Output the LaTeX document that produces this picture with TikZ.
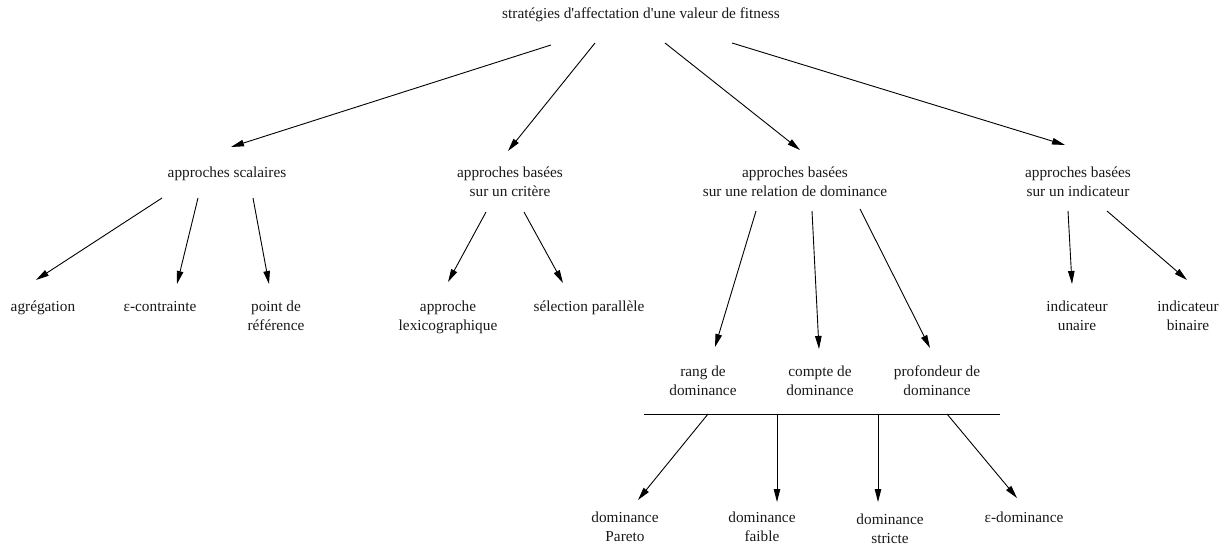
\documentclass[tikz,border=0pt]{standalone}
\usepackage{fontspec}
\setmainfont{Liberation Serif}
\usetikzlibrary{arrows.meta}
\tikzset{
  lbl/.style={anchor=north, inner sep=0pt, align=center, font=\fontsize{15.3}{18.5}\selectfont, text=black!90},
  arr/.style={draw=black, line width=0.9pt, -{Triangle[length=13pt,width=6.5pt]}},
  bar/.style={draw=black, line width=0.9pt}
}
\begin{document}
\begin{tikzpicture}[x=1pt,y=-1pt]
\useasboundingbox (0,0) rectangle (1228,545);
% nodes (positions = north anchors)
\node[lbl] (title) at (641,8) {stratégies d\textquotesingle affectation d\textquotesingle une valeur de fitness};
\node[lbl] (scal) at (227,167) {approches scalaires};
\node[lbl] (crit) at (510,167) {approches basées\\sur un critère};
\node[lbl] (dom)  at (795,167) {approches basées\\sur une relation de dominance};
\node[lbl] (ind)  at (1078,167) {approches basées\\sur un indicateur};
\node[lbl] (agr)  at (43,301) {agrégation};
\node[lbl] (eps)  at (160,301) {ε-contrainte};
\node[lbl] (pref) at (276,301) {point de\\référence};
\node[lbl] (lex)  at (448,301) {approche\\lexicographique};
\node[lbl] (sel)  at (589,301) {sélection parallèle};
\node[lbl] (una)  at (1077,301) {indicateur\\unaire};
\node[lbl] (bin)  at (1188,301) {indicateur\\binaire};
\node[lbl] (rang) at (703,366) {rang de\\dominance};
\node[lbl] (cpt)  at (820,366) {compte de\\dominance};
\node[lbl] (prof) at (937,366) {profondeur de\\dominance};
\node[lbl] (par)  at (625,512) {dominance\\Pareto};
\node[lbl] (fai)  at (762,512) {dominance\\faible};
\node[lbl] (str)  at (890,514) {dominance\\stricte};
\node[lbl] (edom) at (1024,512) {ε-dominance};
% bar
\coordinate (barL) at (644,414);
\coordinate (barR) at (1000,414);
\coordinate (b1) at (708,414);
\coordinate (b2) at (777,414);
\coordinate (b3) at (878,414);
\coordinate (b4) at (947,414);
\draw[bar] (barL) -- (barR);
% connectors
\draw[arr] ([shift={(-90,37)}]title.north) -- ([shift={(4,-20)}]scal.north);
\draw[arr] ([shift={(-46,35)}]title.north) -- ([shift={(-2,-16)}]crit.north);
\draw[arr] ([shift={(24,35)}]title.north) -- ([shift={(5,-17)}]dom.north);
\draw[arr] ([shift={(91,35)}]title.north) -- ([shift={(-13,-22)}]ind.north);
\draw[arr] ([shift={(-65,31)}]scal.north) -- ([shift={(-7,-21)}]agr.north);
\draw[arr] ([shift={(-29,31)}]scal.north) -- ([shift={(17,-17)}]eps.north);
\draw[arr] ([shift={(26,31)}]scal.north) -- ([shift={(-7,-17)}]pref.north);
\draw[arr] ([shift={(-24,45)}]crit.north) -- ([shift={(0,-19)}]lex.north);
\draw[arr] ([shift={(14,45)}]crit.north) -- ([shift={(-26,-18)}]sel.north);
\draw[arr] ([shift={(-39,44)}]dom.north) -- ([shift={(12,-19)}]rang.north);
\draw[arr] ([shift={(17,44)}]dom.north) -- ([shift={(-1,-17)}]cpt.north);
\draw[arr] ([shift={(65,42)}]dom.north) -- ([shift={(-7,-18)}]prof.north);
\draw[arr] ([shift={(-10,44)}]ind.north) -- ([shift={(-5,-17)}]una.north);
\draw[arr] ([shift={(29,44)}]ind.north) -- ([shift={(-1,-21)}]bin.north);
\draw[arr] (b1) -- ([shift={(13,-12)}]par.north);
\draw[arr] (b2) -- ([shift={(15,-10)}]fai.north);
\draw[arr] (b3) -- ([shift={(-12,-12)}]str.north);
\draw[arr] (b4) -- ([shift={(-7,-14)}]edom.north);
\end{tikzpicture}
\end{document}
